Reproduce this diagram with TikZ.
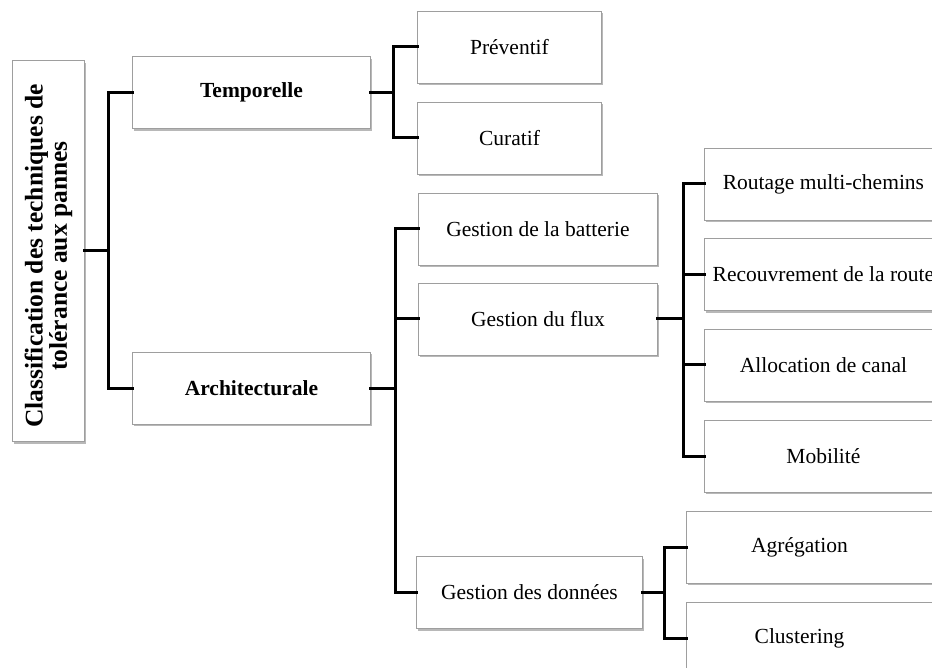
\documentclass[tikz,border=0pt]{standalone}
\usepackage{fontspec}
\setmainfont{Liberation Serif}
\usetikzlibrary{shadows}
\tikzset{
  box/.style={draw=black!38, fill=white, line width=0.9pt, inner sep=0pt,
    minimum height=72pt, anchor=west, align=center,
    font=\fontsize{21.5}{26}\selectfont,
    drop shadow={shadow xshift=1.2pt, shadow yshift=-2.2pt, fill=black, opacity=0.28}},
  conn/.style={draw=black, line width=3pt, line cap=rect}
}
\begin{document}
\begin{tikzpicture}[x=1pt,y=-1pt]
\useasboundingbox (0,0) rectangle (932,668);
\clip (0,0) rectangle (932,668);
\fill[white] (0,0) rectangle (932,668);

% root
\node[box, minimum width=72pt, minimum height=381pt, anchor=north west] (root) at (12,60) {};
\node[rotate=90, align=center, font=\bfseries\fontsize{25.5}{23}\selectfont] (roottext) at ([yshift=-5pt]root.center)
  {Classification des techniques de\\tolérance aux pannes};

% level 1
\node[box, minimum width=238pt, font=\bfseries\fontsize{21.5}{26}\selectfont] (temp) at (132,92.5) {Temporelle};
\node[box, minimum width=238pt, font=\bfseries\fontsize{21.5}{26}\selectfont] (arch) at (132,388) {Architecturale};

% temporelle children
\node[box, minimum width=184pt] (prev) at (417,47) {Préventif};
\node[box, minimum width=184pt] (cura) at (417,138) {Curatif};

% architecturale children
\node[box, minimum width=239pt] (bat) at (418,229) {Gestion de la batterie};
\node[box, minimum width=239pt] (flux) at (418,319) {Gestion du flux};
\node[box, minimum width=226pt] (don) at (416,592.5) {Gestion des données};

% flux children
\node[box, minimum width=238pt] (rout) at (704,184) {Routage multi-chemins};
\node[box, minimum width=238pt] (recv) at (704,274.5) {Recouvrement de la route};
\node[box, minimum width=238pt] (allo) at (704,365) {Allocation de canal};
\node[box, minimum width=238pt] (mobi) at (704,456) {Mobilité};

% donnees children
\node[box] (agr) at (686,547) {\makebox[226pt]{Agrégation}\hspace{33pt}};
\node[box] (clu) at (686,638) {\makebox[226pt]{Clustering}\hspace{33pt}};

% spines
\coordinate (s1) at (108,0);
\coordinate (s2) at (393,0);
\coordinate (s3) at (395,0);
\coordinate (s4) at (683,0);
\coordinate (s5) at (664,0);

\draw[conn] (root.east) -- (root.east -| s1);
\draw[conn] (temp.west) -- (temp.west -| s1) -- (arch.west -| s1) -- (arch.west);

\draw[conn] (temp.east) -- (temp.east -| s2);
\draw[conn] (prev.west) -- (prev.west -| s2) -- (cura.west -| s2) -- (cura.west);

\draw[conn] (arch.east) -- (arch.east -| s3);
\draw[conn] (bat.west) -- (bat.west -| s3) -- (don.west -| s3) -- (don.west);
\draw[conn] (flux.west) -- (flux.west -| s3);

\draw[conn] (flux.east) -- (flux.east -| s4);
\draw[conn] (rout.west) -- (rout.west -| s4) -- (mobi.west -| s4) -- (mobi.west);
\draw[conn] (recv.west) -- (recv.west -| s4);
\draw[conn] (allo.west) -- (allo.west -| s4);

\draw[conn] (don.east) -- (don.east -| s5);
\draw[conn] (agr.west) -- (agr.west -| s5) -- (clu.west -| s5) -- (clu.west);
\end{tikzpicture}
\end{document}
